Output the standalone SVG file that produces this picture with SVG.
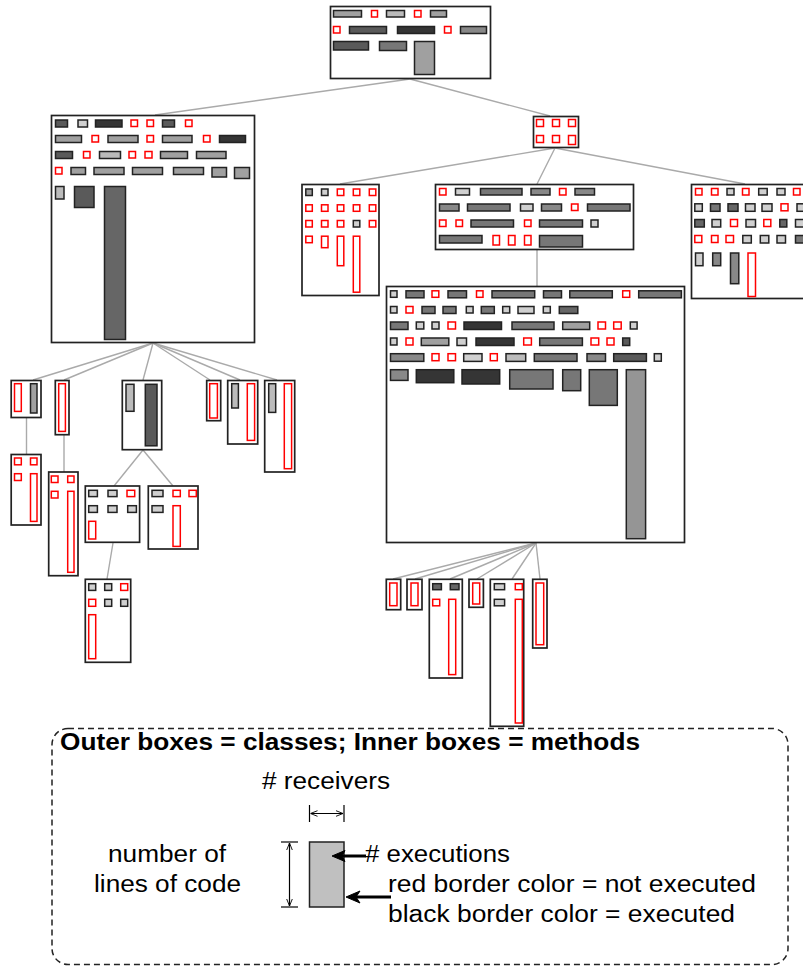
<svg xmlns="http://www.w3.org/2000/svg" width="803" height="966" viewBox="0 0 803 966">
<style>
.o{fill:#fff;stroke:#222;stroke-width:1.7}
rect{stroke:#222;stroke-width:1.5}
.r{fill:#fff;stroke:#f00;stroke-width:1.5}
.l{fill:#d0d0d0}.b{fill:#bbb}.a{fill:#a0a0a0}.m{fill:#888}.g{fill:#777}.d{fill:#5a5a5a}.k{fill:#353535}
.e line{stroke:#aaa;stroke-width:1.4}
text{font-family:"Liberation Sans",Arial,sans-serif;font-size:23px;fill:#000}
.t{font-weight:bold}
</style>
<defs>
<marker id="oh" viewBox="0 0 10 10" refX="10" refY="5" markerWidth="7" markerHeight="7" orient="auto-start-reverse" markerUnits="userSpaceOnUse">
<path d="M0,1 L10,5 L0,9" fill="none" stroke="#000" stroke-width="1.3"/>
</marker>
</defs>
<g id="connectors" class="e">
<line x1="410" y1="79" x2="155" y2="115"/>
<line x1="410" y1="79" x2="550" y2="116"/>
<line x1="555" y1="148" x2="340" y2="184"/>
<line x1="555" y1="148" x2="537" y2="184"/>
<line x1="555" y1="148" x2="745" y2="184"/>
<line x1="537" y1="250" x2="537" y2="286"/>
<line x1="153" y1="343" x2="33" y2="380"/>
<line x1="153" y1="343" x2="64" y2="380"/>
<line x1="153" y1="343" x2="143" y2="380"/>
<line x1="153" y1="343" x2="210" y2="380"/>
<line x1="153" y1="343" x2="240" y2="380"/>
<line x1="153" y1="343" x2="277" y2="380"/>
<line x1="26.5" y1="418" x2="26.5" y2="454"/>
<line x1="64" y1="435" x2="64" y2="472"/>
<line x1="143" y1="450" x2="114" y2="486"/>
<line x1="143" y1="450" x2="173" y2="486"/>
<line x1="113" y1="543" x2="107" y2="579"/>
<line x1="536" y1="543" x2="393" y2="579"/>
<line x1="536" y1="543" x2="415" y2="579"/>
<line x1="536" y1="543" x2="450" y2="579"/>
<line x1="536" y1="543" x2="477" y2="579"/>
<line x1="536" y1="543" x2="512" y2="579"/>
<line x1="536" y1="543" x2="540" y2="579"/>
</g>
<g id="n-root">
<rect class="o" x="330.5" y="6.5" width="160" height="72"/>
<rect class="a" x="333.5" y="10.5" width="28" height="6.5"/>
<rect class="r" x="371.5" y="10.5" width="6" height="6.5"/>
<rect class="b" x="386.5" y="10.5" width="18" height="6.5"/>
<rect class="r" x="414.5" y="10.5" width="6.5" height="6.5"/>
<rect class="a" x="430.5" y="10.5" width="16" height="6.5"/>
<rect class="r" x="333.5" y="26.5" width="6.5" height="6.5"/>
<rect class="d" x="349.5" y="26.5" width="37" height="7"/>
<rect class="k" x="397.5" y="26.5" width="37" height="7"/>
<rect class="r" x="444.5" y="26.5" width="6.5" height="6.5"/>
<rect class="m" x="460.5" y="26.5" width="26" height="7"/>
<rect class="d" x="333.5" y="41.5" width="35" height="8.5"/>
<rect class="g" x="379.5" y="41.5" width="27" height="9"/>
<rect class="a" x="414.5" y="41.5" width="20" height="33"/>
</g>
<g id="n-left">
<rect class="o" x="51.5" y="115.5" width="203" height="227"/>
<rect class="d" x="55.5" y="120" width="12" height="7"/>
<rect class="l" x="78" y="120" width="9.5" height="7"/>
<rect class="k" x="95.5" y="120" width="26.5" height="7"/>
<rect class="r" x="131" y="120" width="6.5" height="6.5"/>
<rect class="r" x="147" y="120" width="6.5" height="6.5"/>
<rect class="d" x="162.5" y="120" width="12" height="7"/>
<rect class="r" x="185.5" y="120" width="6.5" height="6.5"/>
<rect class="a" x="55.5" y="135.5" width="26" height="7"/>
<rect class="r" x="92" y="135.5" width="6.5" height="6.5"/>
<rect class="a" x="108" y="135.5" width="30" height="7"/>
<rect class="r" x="147" y="135.5" width="6.5" height="6.5"/>
<rect class="a" x="162.5" y="135.5" width="29.5" height="7"/>
<rect class="r" x="203.5" y="135.5" width="6.5" height="6.5"/>
<rect class="k" x="219.5" y="135.5" width="26" height="7"/>
<rect class="d" x="55.5" y="151.5" width="17" height="7"/>
<rect class="r" x="83.5" y="151.5" width="6.5" height="6.5"/>
<rect class="b" x="99.5" y="151.5" width="21" height="7"/>
<rect class="r" x="129" y="151.5" width="6.5" height="6.5"/>
<rect class="r" x="145" y="151.5" width="7" height="6.5"/>
<rect class="a" x="160.5" y="151.5" width="27" height="7"/>
<rect class="a" x="196.5" y="151.5" width="29.5" height="7"/>
<rect class="r" x="55.5" y="167.5" width="6.5" height="6.5"/>
<rect class="a" x="71" y="167.5" width="14.5" height="7"/>
<rect class="a" x="94" y="167.5" width="30" height="7"/>
<rect class="a" x="132.5" y="167.5" width="30" height="7"/>
<rect class="a" x="173.5" y="167.5" width="30" height="7"/>
<rect class="a" x="212" y="167.5" width="14.5" height="9.5"/>
<rect class="a" x="234.5" y="167.5" width="15" height="11"/>
<rect class="b" x="55.5" y="186.5" width="8.5" height="12.5"/>
<rect class="d" x="74.5" y="186.5" width="19.5" height="21"/>
<rect class="d" x="104.5" y="186.5" width="21" height="153" style="fill:#666"/>
</g>
<g id="n-hub">
<rect class="o" x="533.5" y="116.5" width="45" height="31"/>
<rect class="r" x="536.5" y="119.5" width="7" height="7"/>
<rect class="r" x="552.5" y="119.5" width="7" height="7"/>
<rect class="r" x="568.5" y="119.5" width="7" height="7"/>
<rect class="r" x="536.5" y="135.5" width="7" height="7"/>
<rect class="r" x="552.5" y="135.5" width="7" height="7"/>
<rect class="r" x="568.5" y="135.5" width="7" height="9"/>
</g>
<g id="n-sub1">
<rect class="o" x="302" y="184.5" width="77" height="111"/>
<rect class="a" x="305.8" y="189" width="6.5" height="6.5"/>
<rect class="l" x="321.5" y="189" width="6.5" height="6.5"/>
<rect class="r" x="337.3" y="189" width="6.5" height="6.5"/>
<rect class="r" x="353.3" y="189" width="6.5" height="6.5"/>
<rect class="r" x="369.3" y="189" width="6.5" height="6.5"/>
<rect class="r" x="305.8" y="204.8" width="6.5" height="6.5"/>
<rect class="r" x="321.5" y="204.8" width="6.5" height="6.5"/>
<rect class="r" x="337.3" y="204.8" width="6.5" height="6.5"/>
<rect class="r" x="353.3" y="204.8" width="6.5" height="6.5"/>
<rect class="r" x="369.3" y="204.8" width="6.5" height="6.5"/>
<rect class="r" x="305.8" y="220.5" width="6.5" height="6.5"/>
<rect class="r" x="321.5" y="220.5" width="6.5" height="6.5"/>
<rect class="r" x="337.3" y="220.5" width="6.5" height="6.5"/>
<rect class="l" x="353.3" y="220.5" width="6.5" height="6.5"/>
<rect class="r" x="369.3" y="220.5" width="6.5" height="6.5"/>
<rect class="r" x="305.8" y="236.2" width="6.5" height="6.5"/>
<rect class="r" x="321.5" y="236.2" width="6.5" height="11.5"/>
<rect class="r" x="337.3" y="236.2" width="6.5" height="29.5"/>
<rect class="r" x="353.3" y="236.2" width="6.5" height="56"/>
</g>
<g id="n-sub2">
<rect class="o" x="435.5" y="184.5" width="198" height="65"/>
<rect class="r" x="439.5" y="188.5" width="6.5" height="6.5"/>
<rect class="l" x="455.5" y="188.5" width="14" height="6.5"/>
<rect class="g" x="480.5" y="188.5" width="41.5" height="6.5"/>
<rect class="m" x="531" y="188.5" width="19" height="6.5"/>
<rect class="r" x="559.5" y="188.5" width="6.5" height="6.5"/>
<rect class="m" x="575" y="188.5" width="19.5" height="6.5"/>
<rect class="m" x="439.5" y="204" width="19.5" height="7"/>
<rect class="g" x="467.5" y="204" width="42.5" height="7"/>
<rect class="l" x="520.5" y="204" width="12.5" height="7"/>
<rect class="m" x="541.5" y="204" width="20" height="7"/>
<rect class="r" x="571.5" y="204" width="6.5" height="6.5"/>
<rect class="g" x="587.5" y="204" width="42.5" height="7"/>
<rect class="r" x="439.5" y="220" width="6.5" height="6.5"/>
<rect class="r" x="456" y="220" width="6.5" height="6.5"/>
<rect class="g" x="471" y="220" width="42.5" height="7"/>
<rect class="r" x="524.5" y="220" width="6.5" height="6.5"/>
<rect class="g" x="539.5" y="220" width="43" height="7"/>
<rect class="l" x="591" y="220" width="7" height="7"/>
<rect class="g" x="439.5" y="235.5" width="42.5" height="7.5"/>
<rect class="r" x="493" y="235.5" width="6.5" height="9.5"/>
<rect class="r" x="508.5" y="235.5" width="6.5" height="9.5"/>
<rect class="r" x="524.5" y="235.5" width="6.5" height="9.5"/>
<rect class="g" x="539.5" y="235.5" width="43" height="11.5"/>
</g>
<g id="n-sub3">
<rect class="o" x="691.5" y="184.5" width="140" height="114"/>
<rect class="r" x="695.5" y="188.5" width="6.5" height="6.5"/>
<rect class="r" x="711.5" y="188.5" width="6.5" height="6.5"/>
<rect class="l" x="727" y="188.5" width="7" height="6.5"/>
<rect class="r" x="742.5" y="188.5" width="6.5" height="6.5"/>
<rect class="l" x="758.7" y="188.5" width="8.5" height="6.5"/>
<rect class="l" x="777" y="188.5" width="8" height="6.5"/>
<rect class="r" x="793.5" y="188.5" width="6.5" height="6.5"/>
<rect class="l" x="694.8" y="203.8" width="7.5" height="7.5"/>
<rect class="g" x="710.5" y="203.8" width="9.5" height="7.5"/>
<rect class="d" x="728" y="203.8" width="10" height="7.5" style="fill:#666"/>
<rect class="l" x="745.5" y="203.8" width="9.5" height="7.5"/>
<rect class="l" x="762" y="203.8" width="10" height="7.5"/>
<rect class="r" x="781" y="203.8" width="7" height="7"/>
<rect class="l" x="797" y="203.8" width="13" height="7.5"/>
<rect class="d" x="694.8" y="219.5" width="9.5" height="7.5" style="fill:#666"/>
<rect class="l" x="712" y="219.5" width="8.7" height="7.5"/>
<rect class="r" x="730.5" y="219.5" width="7" height="7"/>
<rect class="l" x="746" y="219.5" width="9.5" height="7.5"/>
<rect class="r" x="763.8" y="219.5" width="7" height="7"/>
<rect class="d" x="779.8" y="219.5" width="7" height="7.5" style="fill:#666"/>
<rect class="l" x="795.5" y="219.5" width="13" height="7.5"/>
<rect class="r" x="694.8" y="235.5" width="7" height="7"/>
<rect class="r" x="711.5" y="235.5" width="6.5" height="7"/>
<rect class="r" x="726" y="235.5" width="7.5" height="7"/>
<rect class="l" x="742.8" y="235.5" width="8.5" height="7.5"/>
<rect class="l" x="760.3" y="235.5" width="8.5" height="7.5"/>
<rect class="l" x="777" y="235.5" width="8.5" height="7.5"/>
<rect class="g" x="795.5" y="235.5" width="13" height="7.5"/>
<rect class="l" x="695.5" y="253" width="7.5" height="12.7"/>
<rect class="m" x="712.7" y="253" width="8" height="12.7"/>
<rect class="m" x="730.5" y="253" width="8.3" height="30.7"/>
<rect class="r" x="748" y="253" width="7.5" height="43.5"/>
</g>
<g id="n-big">
<rect class="o" x="386.5" y="286.5" width="298" height="256"/>
<rect class="l" x="390.5" y="290.8" width="6.5" height="6.5"/>
<rect class="g" x="406" y="290.8" width="18" height="7"/>
<rect class="r" x="432" y="290.8" width="6.8" height="6.5"/>
<rect class="g" x="448" y="290.8" width="18.5" height="7"/>
<rect class="r" x="476.5" y="290.8" width="6.5" height="6.5"/>
<rect class="g" x="492" y="290.8" width="42.7" height="7"/>
<rect class="g" x="543.5" y="290.8" width="18" height="7"/>
<rect class="g" x="569.8" y="290.8" width="42.5" height="7"/>
<rect class="r" x="622.7" y="290.8" width="7" height="6.5"/>
<rect class="g" x="638.7" y="290.8" width="42.7" height="7"/>
<rect class="l" x="390.5" y="306.5" width="6.5" height="6.5"/>
<rect class="r" x="406" y="306.5" width="7" height="6.5"/>
<rect class="g" x="422" y="306.5" width="13" height="7"/>
<rect class="g" x="443" y="306.5" width="13" height="7"/>
<rect class="l" x="466.3" y="306.5" width="6.8" height="6.5"/>
<rect class="g" x="481.3" y="306.5" width="13" height="7"/>
<rect class="l" x="502.7" y="306.5" width="7" height="6.5"/>
<rect class="l" x="518" y="306.5" width="16" height="7"/>
<rect class="l" x="543.3" y="306.5" width="7" height="6.5"/>
<rect class="d" x="559.3" y="306.5" width="18.5" height="7" style="fill:#666"/>
<rect class="g" x="390.5" y="322" width="17.5" height="7.5"/>
<rect class="l" x="416.3" y="322" width="7.5" height="7"/>
<rect class="l" x="432" y="322" width="7" height="7"/>
<rect class="r" x="448" y="322" width="7.5" height="7"/>
<rect class="k" x="464" y="322" width="37.5" height="7.5"/>
<rect class="g" x="512" y="322" width="42" height="7.5"/>
<rect class="a" x="562.7" y="322" width="27" height="7.5"/>
<rect class="r" x="598" y="322" width="7.5" height="7"/>
<rect class="r" x="613.7" y="322" width="7.5" height="7"/>
<rect class="l" x="630.3" y="322" width="6.8" height="7"/>
<rect class="l" x="390.5" y="338" width="6.5" height="7"/>
<rect class="r" x="406" y="338" width="7" height="7"/>
<rect class="a" x="421.3" y="338" width="27.5" height="7.5"/>
<rect class="l" x="457" y="338" width="9.5" height="7.5"/>
<rect class="k" x="476" y="338" width="38" height="7.5"/>
<rect class="r" x="523.7" y="338" width="7.7" height="7"/>
<rect class="g" x="539.7" y="338" width="42.7" height="7.5"/>
<rect class="r" x="591" y="338" width="7.7" height="7"/>
<rect class="r" x="607" y="338" width="7" height="7"/>
<rect class="d" x="622.7" y="338" width="7" height="7.5"/>
<rect class="m" x="390.5" y="353.7" width="33.3" height="7.7"/>
<rect class="r" x="432" y="353.7" width="7" height="7"/>
<rect class="r" x="448" y="353.7" width="7.5" height="7"/>
<rect class="l" x="463.7" y="353.7" width="18.3" height="7.7"/>
<rect class="r" x="490.3" y="353.7" width="7" height="7"/>
<rect class="b" x="506" y="353.7" width="19.7" height="7.7"/>
<rect class="g" x="534.3" y="353.7" width="42.7" height="7.7"/>
<rect class="m" x="587" y="353.7" width="18.5" height="7.7"/>
<rect class="d" x="613.7" y="353.7" width="32.7" height="7.7"/>
<rect class="l" x="654.3" y="353.7" width="7" height="7.5"/>
<rect class="m" x="390.5" y="369.7" width="17.5" height="10.7"/>
<rect class="k" x="416.3" y="369.7" width="37.5" height="13"/>
<rect class="k" x="462" y="369.7" width="37.7" height="14.3"/>
<rect class="g" x="509.7" y="369.7" width="43.3" height="19.3"/>
<rect class="g" x="562.7" y="369.7" width="18" height="21"/>
<rect class="g" x="589.3" y="369.7" width="28" height="35.7"/>
<rect class="a" x="626.3" y="369.7" width="19.3" height="169" style="fill:#959595"/>
</g>
<g id="n-a">
<rect class="o" x="11.2" y="380.5" width="29.8" height="37"/>
<rect class="r" x="14.5" y="383.7" width="6.8" height="27.7"/>
<rect class="a" x="30.5" y="383.7" width="6.5" height="29.3"/>
</g>
<g id="n-b">
<rect class="o" x="55.3" y="380.5" width="13.7" height="54.2"/>
<rect class="r" x="58.7" y="383.7" width="6.7" height="47.7"/>
</g>
<g id="n-c">
<rect class="o" x="122.3" y="380.5" width="39.4" height="69.2"/>
<rect class="b" x="126" y="384.3" width="8" height="27"/>
<rect class="d" x="145.3" y="384.3" width="11.7" height="61.5"/>
</g>
<g id="n-d">
<rect class="o" x="206.7" y="380.5" width="14" height="40.2"/>
<rect class="r" x="209.7" y="383.7" width="7.7" height="34.3"/>
</g>
<g id="n-e">
<rect class="o" x="227.7" y="380.5" width="30" height="63.5"/>
<rect class="b" x="231.7" y="383.7" width="6.7" height="24.3"/>
<rect class="r" x="247.3" y="383.7" width="7.3" height="56.7"/>
</g>
<g id="n-f">
<rect class="o" x="264.7" y="380.5" width="30" height="91.5"/>
<rect class="b" x="268.7" y="383.7" width="7" height="28.7"/>
<rect class="r" x="284.3" y="383.7" width="7.3" height="85"/>
</g>
<g id="n-a1">
<rect class="o" x="11.2" y="454.5" width="29.8" height="70.5"/>
<rect class="r" x="14.5" y="458" width="6.8" height="6.8"/>
<rect class="r" x="30.5" y="458" width="6.5" height="6.8"/>
<rect class="r" x="14.5" y="473.7" width="6.8" height="6.8"/>
<rect class="r" x="30.5" y="473.7" width="6.5" height="47.7"/>
</g>
<g id="n-b1">
<rect class="o" x="48.7" y="472" width="29.3" height="103.7"/>
<rect class="r" x="51.3" y="476" width="6.7" height="6.5"/>
<rect class="r" x="67.7" y="476" width="6.3" height="6.5"/>
<rect class="r" x="51.3" y="491.3" width="6.7" height="6.7"/>
<rect class="r" x="67.7" y="491.3" width="6.3" height="81"/>
</g>
<g id="n-g">
<rect class="o" x="85.3" y="486" width="54.3" height="56.3"/>
<rect class="l" x="88.7" y="490.3" width="8.7" height="6.3"/>
<rect class="l" x="108" y="490.3" width="9" height="6.3"/>
<rect class="r" x="127" y="490.3" width="7.7" height="6.3"/>
<rect class="l" x="88.7" y="505.7" width="8.7" height="6.7"/>
<rect class="l" x="108" y="505.7" width="9" height="6.7"/>
<rect class="l" x="127.7" y="505.7" width="8.7" height="6.7"/>
<rect class="r" x="88.7" y="521.3" width="7" height="17.7"/>
</g>
<g id="n-h">
<rect class="o" x="148.3" y="486" width="49.7" height="63"/>
<rect class="l" x="152" y="490.3" width="11" height="6.3"/>
<rect class="r" x="173" y="490.3" width="7.3" height="6.3"/>
<rect class="r" x="189" y="490.3" width="7.3" height="6.3"/>
<rect class="l" x="152" y="505.7" width="11" height="6.7"/>
<rect class="r" x="173" y="505.7" width="7.3" height="40.7"/>
</g>
<g id="n-i">
<rect class="o" x="85.3" y="579.3" width="45.4" height="83"/>
<rect class="l" x="88.7" y="583.7" width="7" height="6.7"/>
<rect class="l" x="104.7" y="583.7" width="7" height="6.7"/>
<rect class="r" x="120.7" y="583.7" width="7" height="6.7"/>
<rect class="r" x="88.7" y="599.3" width="7" height="7"/>
<rect class="l" x="104.7" y="599.3" width="7" height="7"/>
<rect class="l" x="120.7" y="599.3" width="7" height="7"/>
<rect class="r" x="88.7" y="614.7" width="7" height="44"/>
</g>
<g id="n-j">
<rect class="o" x="386.3" y="579.3" width="14.4" height="30.4"/>
<rect class="r" x="389.7" y="583" width="7.3" height="22.7"/>
</g>
<g id="n-k">
<rect class="o" x="407" y="579.3" width="15" height="30.4"/>
<rect class="r" x="411" y="583" width="7" height="22.7"/>
</g>
<g id="n-l">
<rect class="o" x="429.3" y="579.3" width="33" height="98.7"/>
<rect class="d" x="432.7" y="583.7" width="8.7" height="6" style="fill:#666"/>
<rect class="d" x="450.3" y="583.7" width="8.7" height="6" style="fill:#666"/>
<rect class="r" x="432.7" y="599.3" width="7" height="6.5"/>
<rect class="r" x="448.7" y="599.3" width="7" height="75.3"/>
</g>
<g id="n-m">
<rect class="o" x="469" y="579.3" width="14.4" height="28"/>
<rect class="r" x="472.7" y="583" width="7" height="21"/>
</g>
<g id="n-n">
<rect class="o" x="490.3" y="579.3" width="33.4" height="147"/>
<rect class="l" x="494.3" y="583.7" width="10.3" height="6"/>
<rect class="r" x="515.3" y="583.7" width="7" height="6"/>
<rect class="l" x="494.3" y="599.3" width="10.3" height="6.5"/>
<rect class="r" x="515.3" y="599.3" width="7" height="123.7"/>
</g>
<g id="n-o">
<rect class="o" x="532.7" y="579.3" width="14.3" height="68.7"/>
<rect class="r" x="536" y="583" width="7.7" height="61.7"/>
</g>
<g id="legend">
<rect x="52" y="728.5" width="736" height="236" rx="16" ry="16" fill="none" stroke="#000" stroke-width="1.2" stroke-dasharray="6,4"/>
<text class="t" x="60" y="750" textLength="580" lengthAdjust="spacingAndGlyphs">Outer boxes = classes; Inner boxes = methods</text>
<text x="262" y="789" textLength="128" lengthAdjust="spacingAndGlyphs"># receivers</text>
<line x1="309.5" y1="805" x2="309.5" y2="822" stroke="#000" stroke-width="1.2"/>
<line x1="344" y1="805" x2="344" y2="822" stroke="#000" stroke-width="1.2"/>
<line x1="310.5" y1="813.5" x2="343" y2="813.5" stroke="#000" stroke-width="1.2" marker-start="url(#oh)" marker-end="url(#oh)"/>
<rect x="309.5" y="842" width="34.5" height="65" fill="#c0c0c0" stroke="#000" stroke-width="1.3"/>
<line x1="281" y1="842" x2="298" y2="842" stroke="#000" stroke-width="1.2"/>
<line x1="281" y1="907" x2="298" y2="907" stroke="#000" stroke-width="1.2"/>
<line x1="289.5" y1="843" x2="289.5" y2="906" stroke="#000" stroke-width="1.2" marker-start="url(#oh)" marker-end="url(#oh)"/>
<text x="108" y="862" textLength="118" lengthAdjust="spacingAndGlyphs">number of</text>
<text x="94" y="892" textLength="147" lengthAdjust="spacingAndGlyphs">lines of code</text>
<line x1="340" y1="856" x2="366" y2="856" stroke="#000" stroke-width="3"/>
<polygon points="332,856 345,850.5 342,856 345,861.5" fill="#000" stroke="#000" stroke-width="1"/>
<line x1="354" y1="897" x2="391" y2="897" stroke="#000" stroke-width="3"/>
<polygon points="346,897 360,891 356,897 360,903" fill="#000" stroke="#000" stroke-width="1"/>
<text x="365" y="862" textLength="145" lengthAdjust="spacingAndGlyphs"># executions</text>
<text x="388" y="892" textLength="368" lengthAdjust="spacingAndGlyphs">red border color = not executed</text>
<text x="388" y="922" textLength="347" lengthAdjust="spacingAndGlyphs">black border color = executed</text>
</g>
</svg>
